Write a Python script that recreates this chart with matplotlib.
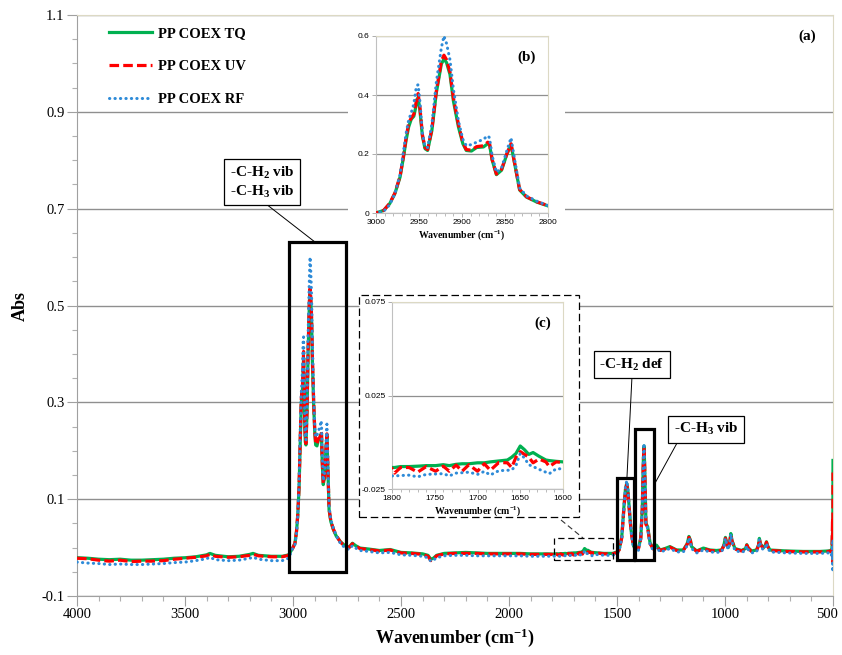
import numpy as np
import matplotlib
matplotlib.use('Agg')
import matplotlib.pyplot as plt
from matplotlib.patches import Rectangle
from matplotlib.lines import Line2D
from matplotlib.ticker import MultipleLocator
import matplotlib.transforms as mtransforms

plt.rcParams['font.family'] = ['Liberation Serif', 'DejaVu Serif']
plt.rcParams['mathtext.fontset'] = 'custom'
plt.rcParams['mathtext.rm'] = 'Liberation Serif:bold'
plt.rcParams['mathtext.bf'] = 'Liberation Serif:bold'
plt.rcParams['mathtext.it'] = 'Liberation Serif:bold:italic'

# ---------------- data ----------------
series_names = ['PP COEX TQ', 'PP COEX UV', 'PP COEX RF']

wn_high = [4000, 3950, 3900, 3850, 3800, 3750, 3700, 3650, 3600, 3550, 3500, 3450,
           3400, 3385, 3360, 3300, 3250, 3200, 3185, 3160, 3100, 3050, 3020]
tq_high = [-0.021, -0.022, -0.024, -0.025, -0.024, -0.026, -0.026, -0.025, -0.024, -0.022, -0.021, -0.019,
           -0.015, -0.012, -0.016, -0.019, -0.018, -0.014, -0.012, -0.016, -0.018, -0.018, -0.015]
uv_high = [-0.022, -0.023, -0.026, -0.028, -0.026, -0.029, -0.028, -0.028, -0.027, -0.024, -0.022, -0.020,
           -0.017, -0.014, -0.018, -0.020, -0.019, -0.016, -0.014, -0.017, -0.019, -0.019, -0.016]
rf_high = [-0.030, -0.032, -0.033, -0.035, -0.034, -0.035, -0.035, -0.034, -0.033, -0.031, -0.030, -0.027,
           -0.023, -0.020, -0.025, -0.027, -0.026, -0.022, -0.020, -0.024, -0.027, -0.027, -0.022]

wn_ch = [3000, 2991, 2984, 2978, 2972, 2968, 2965, 2962, 2959, 2956, 2953, 2951, 2949, 2946,
         2943, 2940, 2935, 2930, 2924, 2921, 2918, 2914, 2910, 2904, 2899, 2895, 2889, 2883,
         2875, 2870, 2868, 2865, 2860, 2854, 2848, 2843, 2839, 2833, 2825, 2813, 2800]
tq_ch = [0.000, 0.009, 0.032, 0.066, 0.122, 0.19, 0.247, 0.292, 0.318, 0.328, 0.37, 0.392, 0.35, 0.26,
         0.218, 0.212, 0.28, 0.405, 0.505, 0.522, 0.51, 0.47, 0.38, 0.29, 0.235, 0.212, 0.21, 0.222,
         0.224, 0.235, 0.232, 0.18, 0.13, 0.145, 0.198, 0.232, 0.17, 0.078, 0.054, 0.037, 0.024]
uv_ch = [0.000, 0.009, 0.033, 0.068, 0.125, 0.195, 0.255, 0.305, 0.322, 0.335, 0.38, 0.405, 0.36, 0.265,
         0.222, 0.215, 0.285, 0.41, 0.515, 0.535, 0.52, 0.478, 0.39, 0.298, 0.24, 0.215, 0.213, 0.225,
         0.228, 0.24, 0.236, 0.182, 0.132, 0.148, 0.2, 0.235, 0.172, 0.08, 0.055, 0.038, 0.025]
rf_ch = [0.000, 0.006, 0.028, 0.066, 0.13, 0.21, 0.27, 0.315, 0.34, 0.37, 0.43, 0.435, 0.38, 0.27,
         0.225, 0.222, 0.3, 0.44, 0.56, 0.6, 0.575, 0.52, 0.42, 0.31, 0.25, 0.228, 0.232, 0.24,
         0.25, 0.262, 0.255, 0.195, 0.138, 0.153, 0.21, 0.255, 0.185, 0.085, 0.058, 0.04, 0.025]

wn_mid = [2780, 2760, 2740, 2725, 2710, 2690, 2650, 2600, 2550, 2500, 2450, 2400, 2375, 2362,
          2350, 2335, 2300, 2250, 2200, 2150, 2100, 2050, 2000, 1950, 1900, 1850, 1820]
tq_mid = [0.012, 0.004, 0.001, 0.009, 0.004, -0.001, -0.003, -0.006, -0.004, -0.010, -0.011, -0.013, -0.016, -0.024,
          -0.022, -0.016, -0.012, -0.011, -0.010, -0.011, -0.012, -0.012, -0.012, -0.012, -0.013, -0.013, -0.013]
uv_mid = [0.011, 0.003, 0.000, 0.008, 0.003, -0.002, -0.004, -0.007, -0.005, -0.011, -0.012, -0.014, -0.018, -0.027,
          -0.024, -0.017, -0.013, -0.012, -0.012, -0.012, -0.013, -0.013, -0.013, -0.013, -0.014, -0.014, -0.014]
rf_mid = [0.008, 0.000, -0.004, 0.004, -0.001, -0.006, -0.008, -0.011, -0.010, -0.015, -0.016, -0.018, -0.021, -0.028,
          -0.026, -0.021, -0.017, -0.016, -0.016, -0.017, -0.017, -0.017, -0.017, -0.017, -0.018, -0.018, -0.018]

wn_c = [1800, 1797, 1790, 1780, 1770, 1760, 1749, 1740, 1733, 1725, 1718, 1710, 1700, 1692,
        1685, 1675, 1665, 1660, 1655, 1650, 1645, 1640, 1635, 1628, 1620, 1616, 1608, 1600]
tq_c = [-0.0135, -0.0135, -0.013, -0.013, -0.0128, -0.0125, -0.0125, -0.012, -0.0125, -0.0118, -0.0115, -0.0115, -0.011, -0.011,
        -0.0105, -0.010, -0.0095, -0.008, -0.006, -0.002, -0.004, -0.0065, -0.0055, -0.0075, -0.0095, -0.0098, -0.0102, -0.0105]
uv_c = [-0.014, -0.0165, -0.0135, -0.0135, -0.016, -0.013, -0.0155, -0.0128, -0.0155, -0.0122, -0.0155, -0.012, -0.0155, -0.0115,
        -0.015, -0.0108, -0.011, -0.0135, -0.008, -0.005, -0.0065, -0.008, -0.011, -0.009, -0.0105, -0.013, -0.0105, -0.0108]
rf_c = [-0.018, -0.018, -0.0178, -0.0176, -0.0185, -0.0172, -0.017, -0.0168, -0.018, -0.0165, -0.0163, -0.016, -0.0172, -0.0156,
        -0.0175, -0.0152, -0.015, -0.0148, -0.0125, -0.006, -0.0085, -0.012, -0.013, -0.0145, -0.016, -0.0168, -0.0142, -0.0142]

wn_fp = [1560, 1520, 1500, 1490, 1478, 1468, 1461, 1455, 1450, 1445, 1435, 1424, 1412, 1401,
         1390, 1383, 1378, 1375, 1372, 1366, 1358, 1347, 1332, 1317, 1301, 1278, 1255, 1224,
         1193, 1175, 1167, 1160, 1155, 1131, 1100, 1070, 1039, 1016, 1005, 998, 990, 985,
         978, 973, 968, 954, 923, 905, 899, 893, 877, 854, 845, 841, 836, 823,
         812, 808, 803, 792, 715, 638, 560, 522, 510, 505, 502, 501, 500]
tq_fp = [-0.012, -0.012, -0.009, -0.004, 0.022, 0.084, 0.120, 0.133, 0.120, 0.091, 0.036, 0.004, -0.004, -0.002,
         0.020, 0.080, 0.180, 0.210, 0.170, 0.050, 0.043, 0.010, -0.002, 0.005, -0.005, -0.002, 0.002, -0.005,
         -0.005, 0.008, 0.023, 0.015, 0.002, -0.007, -0.001, -0.005, -0.006, -0.005, 0.005, 0.021, 0.005, 0.000,
         0.012, 0.029, 0.015, -0.002, -0.006, -0.002, 0.006, 0.000, -0.007, -0.005, 0.005, 0.019, 0.008, -0.001,
         0.006, 0.012, 0.004, -0.005, -0.007, -0.008, -0.008, -0.007, -0.006, -0.002, 0.030, -0.015, 0.180]
uv_fp = [-0.013, -0.013, -0.010, -0.005, 0.020, 0.080, 0.118, 0.130, 0.118, 0.088, 0.034, 0.003, -0.005, -0.003,
         0.018, 0.078, 0.178, 0.208, 0.168, 0.048, 0.041, 0.008, -0.003, 0.004, -0.006, -0.003, 0.001, -0.006,
         -0.006, 0.007, 0.021, 0.014, 0.001, -0.008, -0.002, -0.006, -0.007, -0.006, 0.004, 0.019, 0.004, -0.001,
         0.011, 0.027, 0.014, -0.003, -0.007, -0.003, 0.005, -0.001, -0.008, -0.006, 0.004, 0.018, 0.007, -0.002,
         0.005, 0.011, 0.003, -0.006, -0.008, -0.009, -0.009, -0.008, -0.007, -0.010, 0.060, -0.030, 0.155]
rf_fp = [-0.016, -0.016, -0.013, -0.007, 0.020, 0.084, 0.124, 0.138, 0.124, 0.092, 0.034, 0.000, -0.008, -0.006,
         0.018, 0.082, 0.185, 0.215, 0.172, 0.048, 0.040, 0.006, -0.006, 0.001, -0.009, -0.006, -0.002, -0.009,
         -0.009, 0.004, 0.020, 0.012, -0.002, -0.011, -0.005, -0.009, -0.010, -0.009, 0.002, 0.019, 0.002, -0.004,
         0.009, 0.028, 0.012, -0.006, -0.010, -0.006, 0.003, -0.004, -0.011, -0.009, 0.002, 0.017, 0.005, -0.005,
         0.003, 0.009, 0.001, -0.009, -0.011, -0.012, -0.012, -0.011, -0.010, -0.020, 0.010, -0.050, 0.020]

main_xticks = [4000, 3500, 3000, 2500, 2000, 1500, 1000, 500]
main_yticks = [-0.1, 0.1, 0.3, 0.5, 0.7, 0.9, 1.1]
main_ylabels = ['-0.1', '0.1', '0.3', '0.5', '0.7', '0.9', '1.1']
b_xticks = [3000, 2950, 2900, 2850, 2800]
b_yticks = [0, 0.2, 0.4, 0.6]
b_ylabels = ['0', '0.2', '0.4', '0.6']
c_xticks = [1800, 1750, 1700, 1650, 1600]
c_yticks = [-0.025, 0.025, 0.075]
c_ylabels = ['-0.025', '0.025', '0.075']

wn = np.array(wn_high + wn_ch + wn_mid + wn_c + wn_fp, dtype=float)
tq = np.array(tq_high + tq_ch + tq_mid + tq_c + tq_fp)
uv = np.array(uv_high + uv_ch + uv_mid + uv_c + uv_fp)
rf = np.array(rf_high + rf_ch + rf_mid + rf_c + rf_fp)

GREEN = '#00b050'
RED = '#ff0000'
BLUE = '#2e8bd8'
W, H = 842, 655


def fig_rect(x0, y0, x1, y1):
    return [x0 / W, 1 - y1 / H, (x1 - x0) / W, (y1 - y0) / H]


def plot_series(a, lw=2.3):
    a.plot(wn, tq, color=GREEN, lw=lw, solid_joinstyle='round', label=series_names[0], zorder=3)
    a.plot(wn, uv, color=RED, lw=lw, ls=(0, (3, 1.3)), label=series_names[1], zorder=4)
    a.plot(wn, rf, color=BLUE, lw=lw * 0.95, ls=(0, (0.1, 1.7)), dash_capstyle='round',
           label=series_names[2], zorder=5)


fig = plt.figure(figsize=(W / 100, H / 100), dpi=100)
ax = fig.add_axes(fig_rect(77, 15, 833, 596))
ax.set_zorder(0)
plot_series(ax)
ax.set_xlim(4000, 500)
ax.set_ylim(-0.1, 1.1)
ax.set_xticks(main_xticks)
ax.set_xticklabels([str(t) for t in main_xticks])
ax.xaxis.set_minor_locator(MultipleLocator(100))
ax.set_yticks(main_yticks)
ax.set_yticklabels(main_ylabels)
ax.yaxis.set_minor_locator(MultipleLocator(0.05))
ax.grid(axis='y', which='major', color='#8f8f8f', lw=1.0, zorder=0)
ax.set_axisbelow(True)
ax.tick_params(which='major', direction='out', length=7, width=0.8, color='#a0a0a0', labelsize=10.5, pad=2)
ax.tick_params(which='minor', direction='out', length=3.5, width=0.8, color='#b0b0b0')
for s in ['left', 'bottom']:
    ax.spines[s].set_color('#a0a0a0')
for s in ['top', 'right']:
    ax.spines[s].set_color('#dcd9c4')
# keep the last x tick label inside the figure edge
last_lab = ax.get_xticklabels()[-1]
last_lab.set_transform(last_lab.get_transform() +
                       mtransforms.ScaledTranslation(-6 / 100, 0, fig.dpi_scale_trans))

leg = ax.legend(loc='upper left', bbox_to_anchor=(0.035, 0.99), frameon=False,
                prop={'weight': 'bold', 'size': 10.5}, handlelength=2.9, handletextpad=0.45,
                labelspacing=1.35, borderaxespad=0)

fig.text(20 / W, 1 - 306 / H, 'Abs', rotation=90, ha='center', va='center', fontsize=13, fontweight='bold')
fig.text(455 / W, 1 - 638 / H, r'Wavenumber (cm$^{\mathbf{-1}}$)', ha='center', va='center',
         fontsize=13, fontweight='bold')
ax.text(0.977, 0.975, '(a)', transform=ax.transAxes, ha='right', va='top', fontsize=11, fontweight='bold')

# highlight boxes on main plot (data coordinates)
box_kw = dict(fill=False, ec='black', lw=2.3, zorder=6)
ax.add_patch(Rectangle((3019, -0.051), 2755 - 3019, 0.631 + 0.051, **box_kw))
ax.add_patch(Rectangle((1500, -0.026), 1421 - 1500, 0.143 + 0.026, **box_kw))
ax.add_patch(Rectangle((1417, -0.026), 1329 - 1417, 0.245 + 0.026, **box_kw))
ax.add_patch(Rectangle((1790, -0.026), 1517 - 1790, 0.019 + 0.026, fill=False, ec='black', lw=0.9,
                       ls=(0, (5, 3)), zorder=6))

lab_kw = dict(ha='center', va='center', fontsize=11, fontweight='bold', zorder=7,
              bbox=dict(boxstyle='square,pad=0.38', fc='white', ec='black', lw=0.9))
ax.text(3144, 0.755, '-C-H$_2$ vib\n-C-H$_3$ vib', linespacing=1.25, **lab_kw)
ax.text(1431, 0.378, '-C-H$_2$ def', **lab_kw)
ax.text(1086, 0.244, '-C-H$_3$ vib', **lab_kw)
ax.plot([3120, 2898], [0.708, 0.631], color='black', lw=0.7, zorder=6)
ax.plot([1431, 1454], [0.350, 0.144], color='black', lw=0.7, zorder=6)
ax.plot([1222, 1329], [0.216, 0.129], color='black', lw=0.7, zorder=6)

# white backing for inset (b) and dashed frame around inset (c)
fig.patches.append(Rectangle((348 / W, 1 - 240 / H), 217 / W, 218 / H, transform=fig.transFigure,
                             fc='white', ec='none', zorder=1))
fig.patches.append(Rectangle((359 / W, 1 - 517 / H), 220 / W, 222 / H, transform=fig.transFigure,
                             fc='white', ec='black', lw=0.9, ls=(0, (6, 3)), zorder=1))
fig.lines.append(Line2D([561 / W, 583 / W], [1 - 520 / H, 1 - 538 / H], transform=fig.transFigure,
                        color='#333333', lw=0.8, ls=(0, (5, 3)), zorder=1))


def style_inset(a):
    for s in ['left', 'bottom']:
        a.spines[s].set_color('#c0c0c0')
    for s in ['top', 'right']:
        a.spines[s].set_color('#dcd9c4')
    a.tick_params(which='major', direction='out', length=3, width=0.6, color='#a0a0a0', labelsize=6, pad=1.5)
    a.tick_params(which='minor', direction='out', length=2, width=0.6, color='#b0b0b0')
    for lab in a.get_xticklabels() + a.get_yticklabels():
        lab.set_fontfamily(['Liberation Sans', 'DejaVu Sans'])
    a.grid(axis='y', which='major', color='#8f8f8f', lw=0.9)
    a.set_axisbelow(True)


# inset (b)
axb = fig.add_axes(fig_rect(376, 36, 548, 213))
axb.set_zorder(2)
plot_series(axb)
axb.set_xlim(3000, 2800)
axb.set_ylim(0, 0.6)
axb.set_xticks(b_xticks)
axb.set_xticklabels([str(t) for t in b_xticks])
axb.xaxis.set_minor_locator(MultipleLocator(10))
axb.set_yticks(b_yticks)
axb.set_yticklabels(b_ylabels)
style_inset(axb)
axb.set_xlabel(r'Wavenumber (cm$^{\mathbf{-1}}$)', fontsize=7, fontweight='bold', labelpad=1)
axb.text(0.93, 0.92, '(b)', transform=axb.transAxes, ha='right', va='top', fontsize=11, fontweight='bold')

# inset (c)
axc = fig.add_axes(fig_rect(392, 302, 563, 489))
axc.set_zorder(2)
plot_series(axc)
axc.set_xlim(1800, 1600)
axc.set_ylim(-0.025, 0.075)
axc.set_xticks(c_xticks)
axc.set_xticklabels([str(t) for t in c_xticks])
axc.xaxis.set_minor_locator(MultipleLocator(10))
axc.set_yticks(c_yticks)
axc.set_yticklabels(c_ylabels)
style_inset(axc)
axc.set_xlabel(r'Wavenumber (cm$^{\mathbf{-1}}$)', fontsize=7, fontweight='bold', labelpad=1)
axc.text(0.93, 0.92, '(c)', transform=axc.transAxes, ha='right', va='top', fontsize=11, fontweight='bold')

fig.savefig('out.png', dpi=100)
